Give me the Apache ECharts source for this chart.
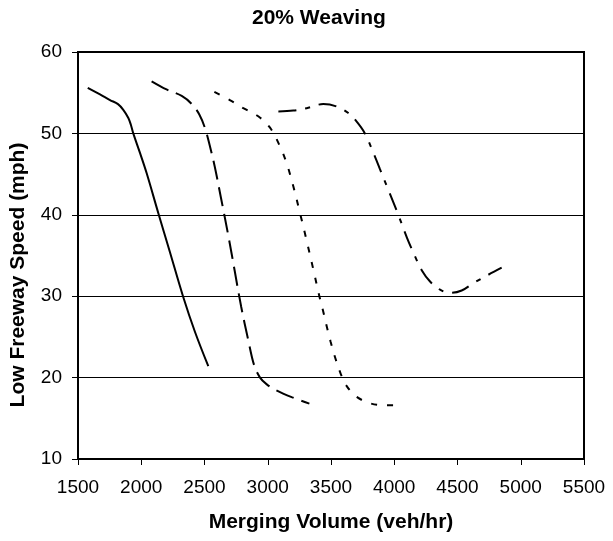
<!DOCTYPE html>
<html>
<head>
<meta charset="utf-8">
<script src="https://cdn.jsdelivr.net/npm/echarts@6/dist/echarts.min.js"></script>
<style>
  html, body { margin: 0; padding: 0; background: #fff; }
  #chart { width: 613px; height: 541px; }
</style>
</head>
<body>
<div id="chart"></div>
<script>
// Speed vs. merging volume, one curve per scenario (20% weaving)
const xTicks = [1500, 2000, 2500, 3000, 3500, 4000, 4500, 5000, 5500];
const yTicks = [10, 20, 30, 40, 50, 60];

const solidX = [1577, 1674, 1753, 1816, 1858, 1898, 1919, 1937, 1990, 2043, 2135, 2227, 2330, 2425, 2530];
const solidY = [55.6, 54.8, 54.1, 53.6, 52.9, 51.9, 51.0, 50.0, 47.6, 45.1, 40.2, 35.4, 30.0, 25.6, 21.4];

const longDashX = [2082, 2200, 2320, 2400, 2460, 2505, 2540, 2580, 2630, 2690, 2740, 2790, 2846, 2891, 2939, 2990, 3060, 3189, 3329];
const longDashY = [56.4, 55.4, 54.6, 53.6, 52.3, 50.6, 48.6, 46.0, 42.1, 37.3, 33.0, 28.7, 24.6, 21.6, 20.0, 19.2, 18.5, 17.6, 16.8];

const dotX = [2578, 2700, 2807, 2925, 3018, 3097, 3150, 3202, 3255, 3308, 3360, 3408, 3439, 3466, 3497, 3532, 3576, 3618, 3697, 3818, 3940, 4070];
const dotY = [55.1, 54.1, 53.1, 52.1, 50.7, 48.4, 46.3, 43.5, 40.2, 36.8, 33.3, 30.0, 28.1, 26.3, 24.4, 22.5, 20.5, 19.1, 17.7, 16.8, 16.6, 16.6];

const dashDotX = [3084, 3202, 3308, 3439, 3545, 3637, 3700, 3768, 3830, 3887, 3960, 4032, 4100, 4164, 4217, 4283, 4362, 4441, 4533, 4625, 4740, 4849];
const dashDotY = [52.7, 52.8, 53.1, 53.6, 53.3, 52.5, 51.5, 50.0, 47.8, 45.6, 42.8, 40.0, 37.2, 34.9, 33.2, 31.8, 30.8, 30.4, 30.7, 31.6, 32.6, 33.5];

const FONT = "'Liberation Sans', Arial, sans-serif";

function pairs(xs, ys) {
  return xs.map((x, i) => [x, ys[i]]);
}

function curve(name, xs, ys, dash) {
  return {
    name: name,
    type: 'line',
    data: pairs(xs, ys),
    smooth: 0.35,
    symbol: 'none',
    lineStyle: { color: '#000', width: 2, type: dash, cap: 'butt' },
    silent: true
  };
}

const chart = echarts.init(document.getElementById('chart'), null, { renderer: 'canvas' });

chart.setOption({
  animation: false,
  backgroundColor: '#fff',
  title: {
    text: '20% Weaving',
    left: 247,
    top: 3,
    textStyle: { fontFamily: FONT, fontSize: 21, fontWeight: 'bold', color: '#000' }
  },
  grid: {
    left: 78, right: 29, top: 52, bottom: 82,
    show: true, borderColor: '#000', borderWidth: 2, backgroundColor: '#fff'
  },
  xAxis: {
    type: 'value',
    min: xTicks[0],
    max: xTicks[xTicks.length - 1],
    interval: 500,
    name: 'Merging Volume (veh/hr)',
    nameLocation: 'middle',
    nameGap: 53,
    nameTextStyle: { fontFamily: FONT, fontSize: 21, fontWeight: 'bold', color: '#000' },
    axisLine: { show: true, lineStyle: { color: '#000', width: 2 } },
    axisTick: { show: true, inside: false, length: 6, lineStyle: { color: '#000', width: 1 } },
    axisLabel: { fontFamily: FONT, fontSize: 19, color: '#000', margin: 19, formatter: v => String(v) },
    splitLine: { show: false }
  },
  yAxis: {
    type: 'value',
    min: yTicks[0],
    max: yTicks[yTicks.length - 1],
    interval: 10,
    name: 'Low Freeway Speed (mph)',
    nameLocation: 'middle',
    nameGap: 49,
    nameRotate: 90,
    nameTextStyle: { fontFamily: FONT, fontSize: 21, fontWeight: 'bold', color: '#000', padding: [0, 39, 0, 0] },
    axisLine: { show: true, lineStyle: { color: '#000', width: 2 } },
    axisTick: { show: true, inside: false, length: 6, lineStyle: { color: '#000', width: 1 } },
    axisLabel: { fontFamily: FONT, fontSize: 19, color: '#000', margin: 16, formatter: v => String(v) },
    splitLine: { show: true, lineStyle: { color: '#000', width: 1 } }
  },
  series: [
    curve('A', solidX, solidY, 'solid'),
    curve('B', longDashX, longDashY, [19, 8]),
    curve('C', dotX, dotY, [6, 10]),
    curve('D', dashDotX, dashDotY, [18, 9, 5, 9])
  ]
});
</script>
</body>
</html>
